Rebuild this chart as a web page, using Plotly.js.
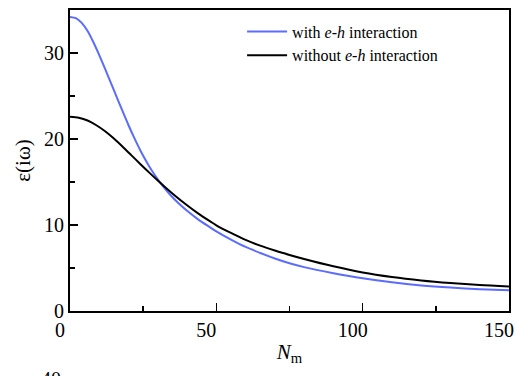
<!DOCTYPE html>
<html>
<head>
<meta charset="utf-8">
<script src="https://cdn.plot.ly/plotly-3.0.1.min.js"></script>
<style>
html,body{margin:0;padding:0;background:#fff;font-family:"Liberation Serif",serif;overflow:hidden;}
#chart{width:516px;height:376px;}
#cut{position:absolute;left:41px;top:367px;font:20px "Liberation Serif",serif;color:#000;line-height:24px;}
</style>
</head>
<body>
<div id="chart"></div>
<div id="cut">40</div>
<script>
const nm = [0,2,4,6,8,10,12,14,16,18,20,22,24,26,28,30,32,34,37,40,44,48,50,55,60,65,70,75,80,90,100,110,120,130,140,150];
const withEH = [34.2,34.05,33.5,32.55,31.25,29.75,28.15,26.5,24.85,23.2,21.6,20.1,18.7,17.45,16.3,15.3,14.4,13.6,12.55,11.65,10.6,9.7,9.25,8.3,7.45,6.75,6.1,5.55,5.1,4.4,3.8,3.33,2.97,2.72,2.54,2.4];
const nmB = [0,3,6,9,12,15,18,21,24,27,30,33,36,40,44,48,50,55,60,65,70,75,80,90,100,110,120,130,140,150];
const withoutEH = [22.6,22.47,22.15,21.6,20.9,20.05,19.1,18.1,17.1,16.12,15.17,14.25,13.38,12.3,11.3,10.4,9.97,9.08,8.27,7.6,7.03,6.52,6.05,5.2,4.48,3.95,3.55,3.25,3.02,2.85];
const seriesNames = ["with <i>e</i>-<i>h</i> interaction","without <i>e</i>-<i>h</i> interaction"];
const xTicks = [0,50,100,150];
const yTicks = [0,10,20,30];

const font = "Liberation Serif";
function draw() {
  const traces = [
    {x: nm, y: withEH, mode: "lines", name: seriesNames[0], line: {color: "#5b6cff", width: 2, shape: "spline", smoothing: 0.8}},
    {x: nmB, y: withoutEH, mode: "lines", name: seriesNames[1], line: {color: "#000000", width: 2, shape: "spline", smoothing: 0.8}}
  ];
  const layout = {
    width: 516, height: 376,
    margin: {l: 70, r: 7, t: 10, b: 65},
    paper_bgcolor: "#fff", plot_bgcolor: "#fff",
    font: {family: font, color: "#000", size: 20},
    showlegend: true,
    legend: {x: 0.392, y: 0.985, xanchor: "left", yanchor: "top", bgcolor: "rgba(0,0,0,0)",
             font: {family: font, size: 16, color: "#000"}, itemwidth: 40, tracegroupgap: 0},
    xaxis: {
      range: [0, 150.01], tickmode: "array", tickvals: xTicks, ticktext: xTicks.map(String),
      ticks: "inside", ticklen: 8, tickwidth: 1.5, tickcolor: "#000", ticklabelshift: -10,
      minor: {dtick: 25, tick0: 0, ticks: "inside", ticklen: 5, tickwidth: 1.5, tickcolor: "#000"},
      showline: true, linewidth: 2, linecolor: "#000", mirror: true,
      showgrid: false, zeroline: false,
      tickfont: {family: font, size: 20, color: "#000"},
      title: {text: "<i>N</i><sub>m</sub>", font: {family: font, size: 21, color: "#000"}, standoff: 4}
    },
    yaxis: {
      range: [0, 35], tickmode: "array", tickvals: yTicks, ticktext: yTicks.map(String),
      ticks: "inside", ticklen: 8, tickwidth: 1.5, tickcolor: "#000",
      minor: {dtick: 5, tick0: 0, ticks: "inside", ticklen: 5, tickwidth: 1.5, tickcolor: "#000"},
      showline: true, linewidth: 2, linecolor: "#000", mirror: true,
      showgrid: false, zeroline: false,
      tickfont: {family: font, size: 20, color: "#000"},
      title: {text: "ε(iω)", font: {family: font, size: 21, color: "#000"}, standoff: 8}
    }
  };
  return Plotly.newPlot("chart", traces, layout, {displayModeBar: false, staticPlot: true});
}
draw();
if (document.fonts && document.fonts.load) {
  document.fonts.load('20px "Liberation Serif"').then(() => draw());
}
</script>
</body>
</html>
